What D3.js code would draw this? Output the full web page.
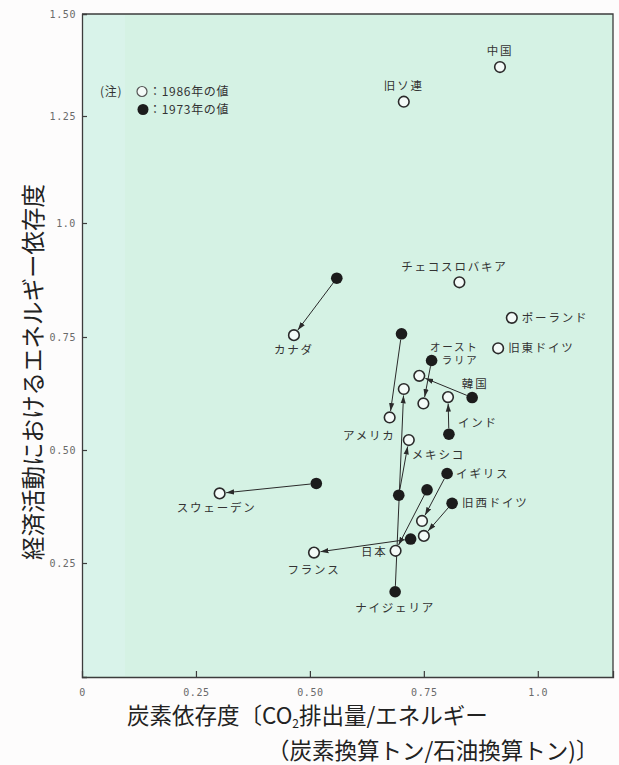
<!DOCTYPE html>
<html>
<head>
<meta charset="utf-8">
<script src="https://cdn.jsdelivr.net/npm/d3@7"></script>
<style>
  html, body { margin: 0; padding: 0; background: #fdfcfc; }
  svg { display: block; }
</style>
</head>
<body>
<svg id="chart" width="619" height="765"></svg>
<script>
// 国名
const countries = ["中国", "旧ソ連", "チェコスロバキア", "ポーランド", "旧東ドイツ", "カナダ", "アメリカ",
  "オーストラリア", "韓国", "インド", "メキシコ", "イギリス", "旧西ドイツ", "日本", "フランス", "スウェーデン", "ナイジェリア"];
// 1986年の値（炭素依存度, エネルギー依存度）
const carbon1986 = [0.917, 0.706, 0.828, 0.943, 0.913, 0.465, 0.675, 0.749, 0.740, 0.803, 0.717, 0.746, 0.750, 0.688, 0.509, 0.302, 0.706];
const energy1986 = [1.370, 1.285, 0.870, 0.792, 0.725, 0.754, 0.572, 0.603, 0.664, 0.617, 0.522, 0.343, 0.310, 0.277, 0.273, 0.404, 0.635];
// 1973年の値（データのない国は null）
const carbon1973 = [null, null, null, null, null, 0.559, 0.701, 0.767, 0.856, 0.805, 0.695, 0.801, 0.812, 0.757, 0.721, 0.514, 0.687];
const energy1973 = [null, null, null, null, null, 0.879, 0.757, 0.698, 0.616, 0.535, 0.400, 0.448, 0.382, 0.412, 0.303, 0.426, 0.187];

const xTicks = [0, 0.25, 0.50, 0.75, 1.0];
const xTickLabels = ["0", "0.25", "0.50", "0.75", "1.0"];
const yTicks = [0.25, 0.50, 0.75, 1.0, 1.25, 1.50];
const yTickLabels = ["0.25", "0.50", "0.75", "1.0", "1.25", "1.50"];

// 国名ラベルの置き方（基準点, ずらし量, 揃え）
const labelLayout = {
  "中国": {ref: 1986, dx: 0, dy: -12, anchor: "middle"},
  "旧ソ連": {ref: 1986, dx: 0, dy: -12, anchor: "middle"},
  "チェコスロバキア": {ref: 1986, dx: -5, dy: -11, anchor: "middle"},
  "ポーランド": {ref: 1986, dx: 10, dy: 4, anchor: "start"},
  "旧東ドイツ": {ref: 1986, dx: 10, dy: 4, anchor: "start"},
  "カナダ": {ref: 1986, dx: 0, dy: 19, anchor: "middle"},
  "アメリカ": {ref: 1986, dx: 6, dy: 23, anchor: "end"},
  "オーストラリア": {ref: 1973, dx: 47, dy: -10, anchor: "end", lines: ["オースト", "ラリア"]},
  "韓国": {ref: 1973, dx: 3, dy: -10, anchor: "middle"},
  "インド": {ref: 1973, dx: 9, dy: -7, anchor: "start"},
  "メキシコ": {ref: 1986, dx: 3, dy: 19, anchor: "start"},
  "イギリス": {ref: 1973, dx: 9, dy: 4, anchor: "start"},
  "旧西ドイツ": {ref: 1973, dx: 10, dy: 4, anchor: "start"},
  "日本": {ref: 1986, dx: -8, dy: 5, anchor: "end"},
  "フランス": {ref: 1986, dx: 0, dy: 21, anchor: "middle"},
  "スウェーデン": {ref: 1986, dx: -3, dy: 19, anchor: "middle"},
  "ナイジェリア": {ref: 1973, dx: 0, dy: 20, anchor: "middle"}
};

const svg = d3.select("#chart");
const jp = "'Noto Sans CJK JP', 'Noto Sans', sans-serif";
const mono = "'DejaVu Sans Mono', monospace";

const plot = {left: 82, right: 613, top: 14, bottom: 677};

const x = d3.scaleLinear().domain([0, 1.165]).range([plot.left, plot.right]);
// 縦軸は目盛ごとの間隔に合わせた区分線形の尺度
const y = d3.scaleLinear()
  .domain([0, 0.25, 0.50, 0.75, 1.0, 1.25, 1.50])
  .range([677, 563, 450, 337, 223, 116, 14]);

// 描画領域
svg.append("rect")
  .attr("x", plot.left).attr("y", plot.top)
  .attr("width", plot.right - plot.left).attr("height", plot.bottom - plot.top)
  .attr("fill", "#d5f2e4");
svg.append("rect")
  .attr("x", plot.left + 1).attr("y", plot.top + 1)
  .attr("width", 42).attr("height", plot.bottom - plot.top - 2)
  .attr("fill", "#dcf4ee").attr("opacity", 0.6);

// 軸
const xAxis = d3.axisBottom(x).tickValues(xTicks).tickSize(-6).tickPadding(10)
  .tickFormat((d, i) => xTickLabels[i]);
const gx = svg.append("g").attr("transform", `translate(0,${plot.bottom})`).call(xAxis);
const yAxis = d3.axisLeft(y).tickValues(yTicks).tickSize(-5).tickPadding(6)
  .tickFormat((d, i) => yTickLabels[i]);
const gy = svg.append("g").attr("transform", `translate(${plot.left},0)`).call(yAxis);

[gx, gy].forEach(g => {
  g.select(".domain").attr("stroke", "#3c3c3c").attr("stroke-width", 1.3);
  g.selectAll(".tick line").attr("stroke", "#3c3c3c").attr("stroke-width", 1.2);
  g.selectAll(".tick text").attr("font-family", mono).attr("font-size", 10)
    .attr("fill", "#6a6a6a").attr("letter-spacing", 0.6);
});
gy.selectAll(".tick").filter(d => d === 1.5).select("line").remove();
gx.selectAll(".tick").filter(d => d === 0).select("line").remove();
gx.selectAll(".tick text").attr("dy", "0.9em");

// 上と右の枠線
svg.append("path")
  .attr("d", `M${plot.left},${plot.top}H${plot.right}V${plot.bottom}`)
  .attr("fill", "none").attr("stroke", "#3c3c3c").attr("stroke-width", 1.3);

// 矢印
const defs = svg.append("defs");
defs.append("marker")
  .attr("id", "arrow").attr("markerUnits", "userSpaceOnUse")
  .attr("viewBox", "0 -3 8 6").attr("refX", 8).attr("refY", 0)
  .attr("markerWidth", 8).attr("markerHeight", 6).attr("orient", "auto")
  .append("path").attr("d", "M0,-2.6L8,0L0,2.6Z").attr("fill", "#2a2a2a");

const rOpen = 5.3, rFilled = 5.8;
const rows = countries.map((name, i) => ({
  name,
  x86: carbon1986[i], y86: energy1986[i],
  x73: carbon1973[i], y73: energy1973[i]
}));
const paired = rows.filter(d => d.x73 !== null);

svg.append("g").selectAll("line").data(paired).join("line")
  .each(function(d) {
    const x0 = x(d.x73), y0 = y(d.y73), x1 = x(d.x86), y1 = y(d.y86);
    const len = Math.hypot(x1 - x0, y1 - y0);
    const ux = (x1 - x0) / len, uy = (y1 - y0) / len;
    d3.select(this)
      .attr("x1", x0 + ux * rFilled).attr("y1", y0 + uy * rFilled)
      .attr("x2", x1 - ux * (rOpen + 1.2)).attr("y2", y1 - uy * (rOpen + 1.2));
  })
  .attr("stroke", "#2a2a2a").attr("stroke-width", 1)
  .attr("marker-end", "url(#arrow)");

// 1973年の値（黒丸）
svg.append("g").selectAll("circle").data(paired).join("circle")
  .attr("cx", d => x(d.x73)).attr("cy", d => y(d.y73)).attr("r", rFilled)
  .attr("fill", "#1c1c1c");

// 1986年の値（白丸）
svg.append("g").selectAll("circle").data(rows).join("circle")
  .attr("cx", d => x(d.x86)).attr("cy", d => y(d.y86)).attr("r", rOpen)
  .attr("fill", "#f4fbf8").attr("stroke", "#2a2a2a").attr("stroke-width", 1.6);

// 国名
const labels = svg.append("g").attr("font-family", jp).attr("font-size", 11.5)
  .attr("fill", "#333").attr("letter-spacing", 1.8);
rows.forEach(d => {
  const L = labelLayout[d.name];
  const px = L.ref === 1973 ? x(d.x73) : x(d.x86);
  const py = L.ref === 1973 ? y(d.y73) : y(d.y86);
  const lines = L.lines || [d.name];
  const fs = lines.length > 1 ? 10.5 : 11.5;
  lines.forEach((t, k) => {
    labels.append("text")
      .attr("x", px + L.dx).attr("y", py + L.dy + k * 13.5)
      .attr("font-size", fs)
      .attr("text-anchor", L.anchor).text(t);
  });
});

// 凡例
const lg = svg.append("g").attr("font-family", jp).attr("font-size", 12).attr("fill", "#333")
  .attr("letter-spacing", 0.7);
lg.append("text").attr("x", 100).attr("y", 96).text("(注)");
lg.append("circle").attr("cx", 142).attr("cy", 91.5).attr("r", 5)
  .attr("fill", "#f4fbf8").attr("stroke", "#555").attr("stroke-width", 1.2);
lg.append("text").attr("x", 149).attr("y", 96).text("：1986年の値");
lg.append("circle").attr("cx", 143).attr("cy", 109.5).attr("r", 5.5).attr("fill", "#1c1c1c");
lg.append("text").attr("x", 149).attr("y", 114).text("：1973年の値");

// 軸タイトル
svg.append("text")
  .attr("transform", "translate(42,372) rotate(-90)")
  .attr("text-anchor", "middle").attr("font-family", jp).attr("font-size", 23.5)
  .attr("fill", "#222").text("経済活動におけるエネルギー依存度");

const xt = svg.append("text").attr("x", 127).attr("y", 724)
  .attr("font-family", jp).attr("font-size", 22.5).attr("fill", "#222");
xt.append("tspan").text("炭素依存度〔CO");
xt.append("tspan").attr("font-size", 12).attr("dy", 4).text("2");
xt.append("tspan").attr("dy", -4).text("排出量/エネルギー");
svg.append("text").attr("x", 267).attr("y", 759)
  .attr("font-family", jp).attr("font-size", 22.5).attr("fill", "#222")
  .text("（炭素換算トン/石油換算トン)〕");
</script>
</body>
</html>
